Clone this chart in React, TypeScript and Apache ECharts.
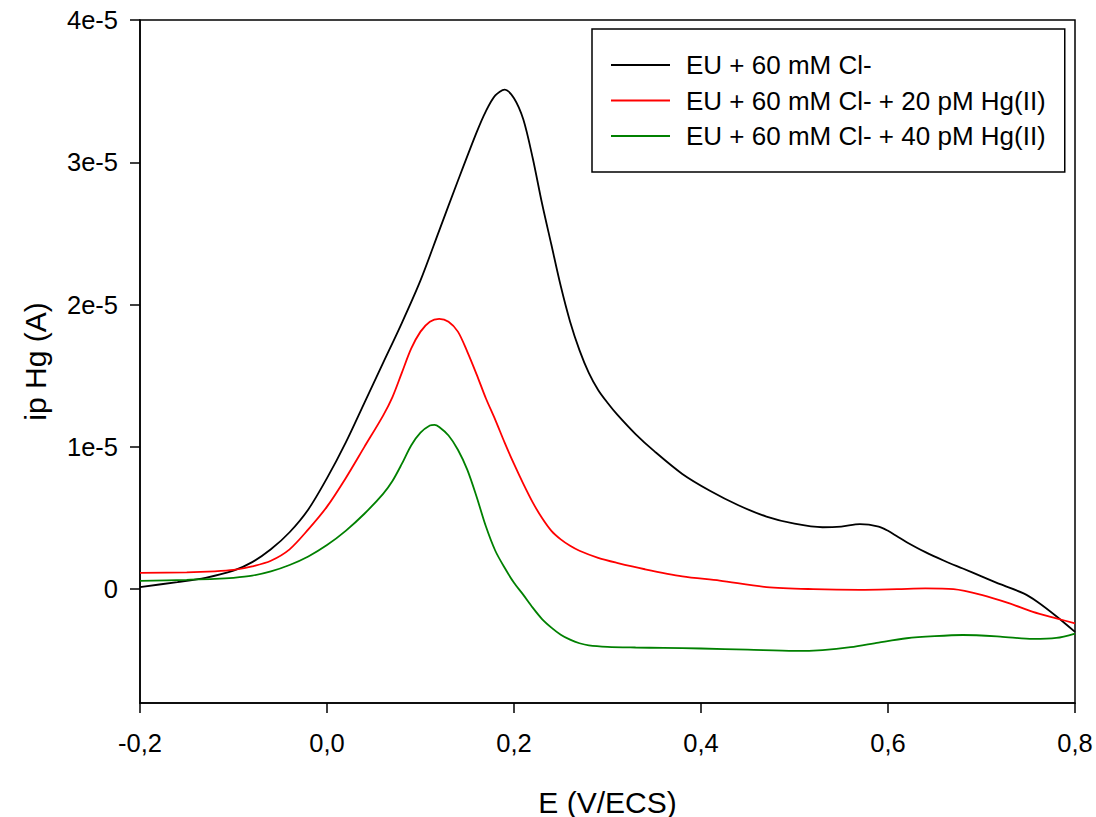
import React, { useEffect, useRef } from "react";
import * as echarts from "echarts";

// Potential E (V/ECS) and current (units of 1e-5 A)
const blackE = [-0.2, -0.16, -0.13, -0.1, -0.08, -0.06, -0.04, -0.02, 0.0, 0.02, 0.04, 0.06, 0.08, 0.1, 0.12, 0.14, 0.16, 0.17, 0.18, 0.19, 0.2, 0.21, 0.22, 0.23, 0.24, 0.25, 0.26, 0.27, 0.28, 0.29, 0.3, 0.31, 0.33, 0.35, 0.38, 0.41, 0.44, 0.47, 0.5, 0.53, 0.55, 0.57, 0.59, 0.6, 0.61, 0.62, 0.64, 0.66, 0.68, 0.7, 0.72, 0.745, 0.76, 0.78, 0.8];
const blackI = [0.015, 0.05, 0.08, 0.13, 0.19, 0.28, 0.4, 0.56, 0.78, 1.03, 1.31, 1.59, 1.87, 2.17, 2.52, 2.87, 3.21, 3.36, 3.47, 3.51, 3.45, 3.3, 3.03, 2.71, 2.42, 2.13, 1.88, 1.68, 1.52, 1.4, 1.31, 1.23, 1.09, 0.97, 0.81, 0.69, 0.59, 0.51, 0.46, 0.435, 0.44, 0.457, 0.44, 0.41, 0.37, 0.33, 0.26, 0.2, 0.145, 0.09, 0.035, -0.03, -0.09, -0.19, -0.3];

const redE = [-0.2, -0.15, -0.12, -0.1, -0.08, -0.06, -0.04, -0.02, 0.0, 0.02, 0.04, 0.06, 0.07, 0.08, 0.09, 0.1, 0.11, 0.12, 0.13, 0.14, 0.15, 0.16, 0.17, 0.18, 0.19, 0.2, 0.21, 0.22, 0.23, 0.24, 0.25, 0.26, 0.27, 0.29, 0.31, 0.34, 0.38, 0.42, 0.47, 0.52, 0.57, 0.61, 0.64, 0.67, 0.7, 0.73, 0.755, 0.78, 0.8];
const redI = [0.115, 0.118, 0.125, 0.135, 0.16, 0.2, 0.28, 0.42, 0.58, 0.78, 1.0, 1.22, 1.35, 1.52, 1.69, 1.81, 1.88, 1.9, 1.88, 1.81, 1.67, 1.51, 1.34, 1.19, 1.03, 0.88, 0.74, 0.61, 0.5, 0.41, 0.35, 0.305, 0.27, 0.22, 0.185, 0.14, 0.09, 0.06, 0.015, 0.0, -0.005, 0.0, 0.005, 0.0, -0.04, -0.1, -0.16, -0.205, -0.24];

const greenE = [-0.2, -0.15, -0.12, -0.1, -0.08, -0.06, -0.04, -0.02, 0.0, 0.02, 0.04, 0.06, 0.07, 0.08, 0.09, 0.1, 0.11, 0.115, 0.12, 0.13, 0.14, 0.15, 0.16, 0.17, 0.18, 0.19, 0.2, 0.21, 0.22, 0.23, 0.24, 0.25, 0.26, 0.27, 0.28, 0.3, 0.33, 0.36, 0.4, 0.45, 0.5, 0.53, 0.56, 0.59, 0.62, 0.65, 0.68, 0.72, 0.755, 0.78, 0.8];
const greenI = [0.058, 0.066, 0.072, 0.08, 0.095, 0.125, 0.17, 0.23, 0.31, 0.41, 0.53, 0.67, 0.76, 0.88, 1.01, 1.1, 1.15, 1.155, 1.14, 1.08, 0.98, 0.84, 0.65, 0.44, 0.27, 0.15, 0.045, -0.04, -0.13, -0.21, -0.27, -0.32, -0.355, -0.38, -0.395, -0.405, -0.41, -0.413, -0.417, -0.425, -0.434, -0.428, -0.408, -0.375, -0.345, -0.33, -0.322, -0.333, -0.35, -0.343, -0.312];

const seriesNames = [
  "EU + 60 mM Cl-",
  "EU + 60 mM Cl- + 20 pM Hg(II)",
  "EU + 60 mM Cl- + 40 pM Hg(II)",
];
const seriesColors = ["#000000", "#ff0000", "#008000"];
const yTicks = [0, 1, 2, 3, 4];

const zip = (xs: number[], ys: number[]) => xs.map((x, i) => [x, ys[i]]);

export default function App() {
  const ref = useRef<HTMLDivElement>(null);
  useEffect(() => {
    if (!ref.current) return;
    const chart = echarts.init(ref.current, undefined, { renderer: "svg" });
    const font = "Liberation Sans, Arial, sans-serif";
    const datasets = [zip(blackE, blackI), zip(redE, redI), zip(greenE, greenI)];
    chart.setOption({
      animation: false,
      backgroundColor: "#ffffff",
      textStyle: { fontFamily: font },
      grid: {
        left: 140,
        right: 21,
        top: 20,
        bottom: 114,
        show: true,
        borderColor: "#000",
        borderWidth: 1.5,
        containLabel: false,
        outerBoundsMode: "none",
      },
      legend: {
        orient: "vertical",
        left: 592,
        top: 29,
        padding: [21, 19, 21, 19],
        borderColor: "#000",
        borderWidth: 1.5,
        backgroundColor: "#fff",
        itemWidth: 59,
        itemHeight: 2,
        itemGap: 5.5,
        icon: "rect",
        textStyle: { fontSize: 26, fontFamily: font, color: "#000", lineHeight: 30, padding: [0, 0, 0, 11] },
        data: seriesNames,
      },
      xAxis: {
        type: "value",
        min: -0.2,
        max: 0.8,
        interval: 0.2,
        name: "E (V/ECS)",
        nameLocation: "middle",
        nameGap: 84,
        nameTextStyle: { fontSize: 30, fontFamily: font, color: "#000" },
        axisLine: { onZero: false, lineStyle: { color: "#000", width: 1.5 } },
        axisTick: { inside: false, length: 10, lineStyle: { color: "#000", width: 1.5 } },
        axisLabel: {
          fontSize: 25.5,
          color: "#000",
          margin: 27,
          formatter: (v: number) => v.toFixed(1).replace(".", ","),
        },
        splitLine: { show: false },
      },
      yAxis: {
        type: "value",
        min: -0.8,
        max: 4,
        name: "ip Hg (A)",
        nameLocation: "middle",
        nameGap: 90,
        nameTextStyle: { fontSize: 30, fontFamily: font, color: "#000" },
        axisLine: { show: true, onZero: false, lineStyle: { color: "#000", width: 1.5 } },
        axisTick: { show: true, inside: false, length: 10, customValues: yTicks, lineStyle: { color: "#000", width: 1.5 } },
        axisLabel: {
          fontSize: 25.5,
          color: "#000",
          margin: 22,
          customValues: yTicks,
          formatter: (v: number) => (Math.abs(v) < 1e-9 ? "0" : Math.round(v) + "e-5"),
        },
        splitLine: { show: false },
      },
      series: seriesNames.map((name, k) => ({
        name,
        type: "line",
        data: datasets[k],
        smooth: 0.3,
        symbol: "none",
        color: seriesColors[k],
        lineStyle: { color: seriesColors[k], width: 1.8 },
      })),
    });
    return () => chart.dispose();
  }, []);
  return <div ref={ref} style={{ position: "absolute", left: 0, top: 0, width: 1096, height: 817 }} />;
}
